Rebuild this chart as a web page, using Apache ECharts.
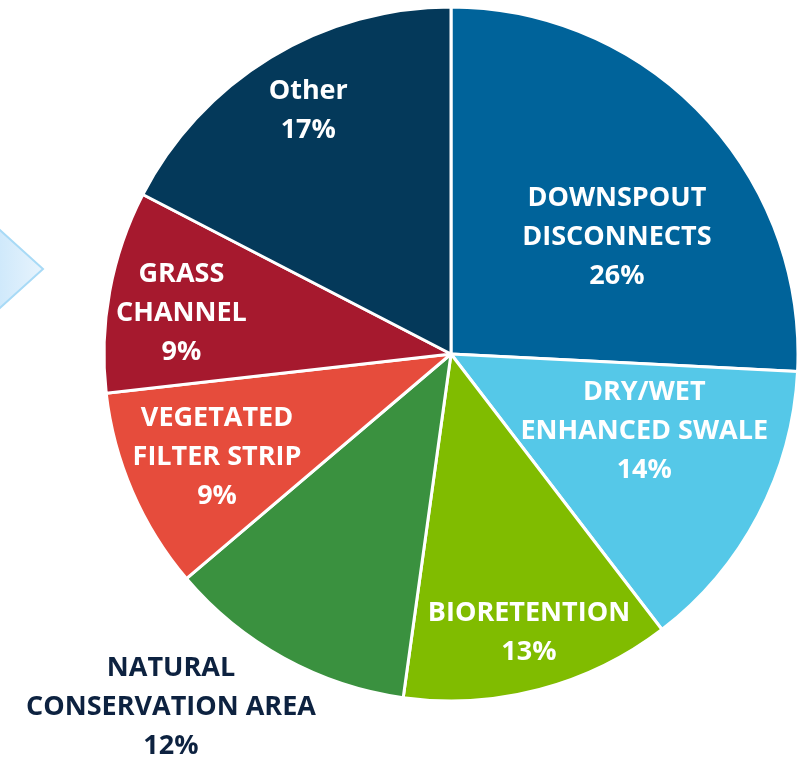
<!DOCTYPE html>
<html><head><meta charset="utf-8">
<script src="https://cdn.jsdelivr.net/npm/echarts@6/dist/echarts.min.js"></script>
<style>html,body{margin:0;padding:0;background:#fff}#c{width:803px;height:758px}</style>
</head><body><div id="c"></div>
<script>
const categories = ['DOWNSPOUT\nDISCONNECTS', 'DRY/WET\nENHANCED SWALE', 'BIORETENTION', 'NATURAL\nCONSERVATION AREA', 'VEGETATED\nFILTER STRIP', 'GRASS\nCHANNEL', 'Other'];
const values = [25.8, 13.8, 12.6, 11.6, 9.4, 9.4, 17.4];
const colors = ['#00639A', '#55C8E8', '#80BC00', '#3A913F', '#E64C3C', '#A6192E', '#04395A'];
const labelColors = ['#fff', '#fff', '#fff', '#0D2240', '#fff', '#fff', '#fff'];
// label offsets from default inside position (layout)
const labelShift = [[38, 5], [37, -5], [33, 108], [-195, 199], [-72, 33], [-96, -9], [-51, -92]];

const chart = echarts.init(document.getElementById('c'));
chart.setOption({
  animation: false,
  graphic: [{
    type: 'polygon',
    shape: { points: [[-20, 212], [43, 269], [-20, 326]] },
    style: {
      fill: { type: 'linear', x: 0, y: 0, x2: 1, y2: 0, colorStops: [{ offset: 0, color: '#C4E4FA' }, { offset: 1, color: '#E8F4FD' }] },
      stroke: '#A8DAF6', lineWidth: 2
    }
  }],
  series: [{
    type: 'pie',
    center: [451, 354],
    radius: [0, 347],
    startAngle: 90,
    clockwise: true,
    avoidLabelOverlap: false,
    itemStyle: { borderColor: '#fff', borderWidth: 3 },
    label: {
      position: 'inside',
      fontFamily: 'Open Sans',
      fontWeight: 'bold',
      fontSize: 27,
      lineHeight: 39,
      align: 'center',
      formatter: p => p.name + '\n' + Math.round(p.percent) + '%'
    },
    labelLine: { show: false },
    labelLayout: p => ({ dx: labelShift[p.dataIndex][0], dy: labelShift[p.dataIndex][1] }),
    data: categories.map((c, i) => ({
      name: c, value: values[i],
      itemStyle: { color: colors[i] },
      label: { color: labelColors[i] }
    }))
  }]
});
</script></body></html>
